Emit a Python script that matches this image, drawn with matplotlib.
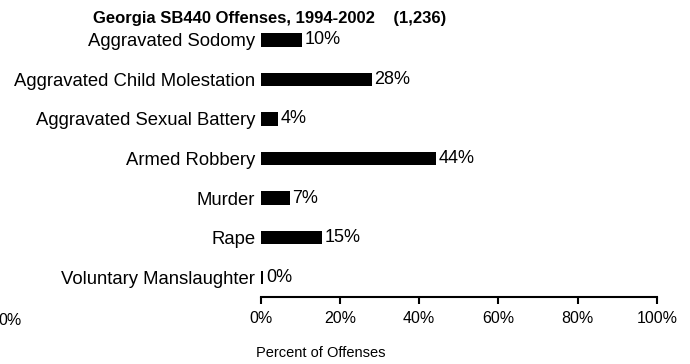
import matplotlib
matplotlib.use("Agg")
import matplotlib.pyplot as plt
from matplotlib.ticker import FuncFormatter

categories = ["Aggravated Sodomy", "Aggravated Child Molestation", "Aggravated Sexual Battery",
              "Armed Robbery", "Murder", "Rape", "Voluntary Manslaughter"]
values = [10.4, 28.0, 4.4, 44.2, 7.3, 15.4, 0.6]
labels = ["10%", "28%", "4%", "44%", "7%", "15%", "0%"]
xticks = [0, 20, 40, 60, 80, 100]

plt.rcParams['font.family'] = ['Liberation Sans', 'DejaVu Sans']

fig = plt.figure(figsize=(6.9, 3.64), dpi=100)
ax = fig.add_axes([0.378, 0.184, 0.574, 0.761])
pos = list(range(len(categories)))
ax.barh(pos, values, height=0.34, color='black')
for p, v, l in zip(pos, values, labels):
    ax.text(v + 0.7, p, l, va='center', ha='left', fontsize=13)
ax.set_ylim(len(categories) - 0.5, -0.5)
ax.set_xlim(0, 100)
ax.set_yticks(pos)
ax.set_yticklabels(categories, fontsize=13.3)
ax.tick_params(axis='y', length=0, pad=4)
ax.set_xticks(xticks)
ax.xaxis.set_major_formatter(FuncFormatter(lambda x, _: f"{x:.0f}%"))
ax.tick_params(axis='x', length=5, width=1.5, labelsize=11.5, pad=5)
for s in ['top', 'right', 'left']:
    ax.spines[s].set_visible(False)
ax.spines['bottom'].set_linewidth(1.5)
fig.text(0.465, 0.03, "Percent of Offenses", ha='center', va='center', fontsize=10.5)
fig.text(0.391, 0.95, "Georgia SB440 Offenses, 1994-2002    (1,236)", ha='center', va='center',
         fontsize=12, fontweight='bold')
fig.text(-0.003, 0.12, "0%", ha='left', va='center', fontsize=11.5)
fig.savefig("out.png", dpi=100)
